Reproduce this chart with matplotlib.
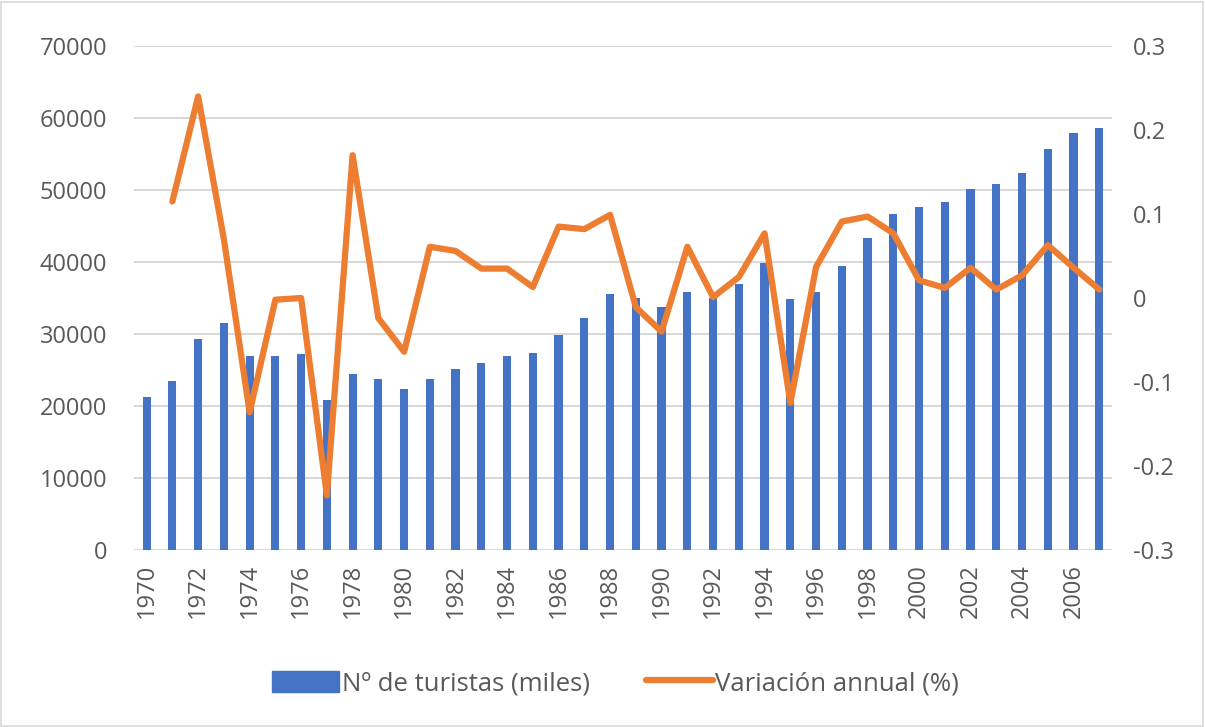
import numpy as np
import matplotlib.pyplot as plt
from matplotlib.patches import Rectangle
from matplotlib.lines import Line2D

years = list(range(1970, 2008))

# Nº de turistas (miles)
turistas = [21200, 23500, 29300, 31500, 26900, 26900, 27200, 20800, 24400, 23700,
            22400, 23700, 25100, 26000, 26900, 27300, 29800, 32200, 35500, 35000,
            33700, 35800, 35000, 36900, 39800, 34800, 35900, 39500, 43300, 46700,
            47700, 48400, 50100, 50800, 52400, 55700, 57900, 58600]

# Variación annual (%) -- first year has no value
variacion = [np.nan, 0.115, 0.240, 0.070, -0.136, -0.002, 0.000, -0.235, 0.170, -0.024,
             -0.064, 0.061, 0.056, 0.035, 0.035, 0.013, 0.085, 0.082, 0.099, -0.011,
             -0.040, 0.061, 0.001, 0.025, 0.077, -0.125, 0.037, 0.091, 0.097, 0.077,
             0.021, 0.012, 0.036, 0.010, 0.027, 0.063, 0.036, 0.010]

left_ticks = [0, 10000, 20000, 30000, 40000, 50000, 60000, 70000]
right_ticks = [-0.3, -0.2, -0.1, 0, 0.1, 0.2, 0.3]
right_labels = ["-0.3", "-0.2", "-0.1", "0", "0.1", "0.2", "0.3"]

blue = "#4472C4"
orange = "#ED7D31"
txt = "#595959"
grid = "#d9d9d9"

plt.rcParams['font.family'] = ['Open Sans', 'DejaVu Sans']

fig = plt.figure(figsize=(12.05, 7.27), dpi=100)
ax = fig.add_axes([0.111, 0.2435, 0.812, 0.6932])

ax.bar(years, turistas, width=0.32, color=blue, zorder=2)
ax.set_ylim(0, 70000)
ax.set_xlim(1969.5, 2007.5)
ax.set_yticks(left_ticks)
ax.set_yticklabels([str(t) for t in left_ticks])
ax.set_xticks(years[::2])
ax.set_xticklabels([str(y) for y in years[::2]], rotation=90)
ax.yaxis.grid(True, color=grid, linewidth=1.5, zorder=0)
ax.set_axisbelow(True)
for s in ax.spines.values():
    s.set_visible(False)
ax.tick_params(axis='y', length=0, pad=19, labelsize=17, labelcolor=txt)
ax.tick_params(axis='x', length=0, pad=10, labelsize=17, labelcolor=txt)

ax2 = ax.twinx()
ax2.plot(years, variacion, color=orange, linewidth=4.5, solid_joinstyle='round',
         solid_capstyle='round', zorder=3)
ax2.set_ylim(-0.3, 0.3)
ax2.set_yticks(right_ticks)
ax2.set_yticklabels(right_labels)
for s in ax2.spines.values():
    s.set_visible(False)
ax2.tick_params(axis='y', length=0, pad=15, labelsize=17, labelcolor=txt)

handles = [Rectangle((0, 0), 1, 1, color=blue),
           Line2D([0], [0], color=orange, linewidth=4.5, solid_capstyle='round')]
fig.legend(handles, ["Nº de turistas (miles)", "Variación annual (%)"],
           loc='center', bbox_to_anchor=(0.511, 0.06), ncol=2, frameon=False,
           fontsize=18.5, labelcolor=txt, handlelength=2.6, handleheight=0.9,
           handletextpad=0.1, columnspacing=2.2)

fig.patches.append(Rectangle((0.001, 0.002), 0.997, 0.995, transform=fig.transFigure,
                             fill=False, edgecolor=grid, linewidth=1.2))

fig.savefig("out.png", dpi=100)
